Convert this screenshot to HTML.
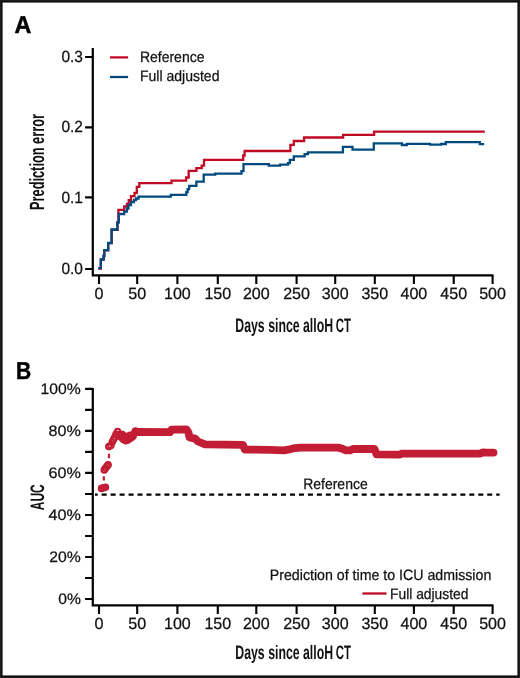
<!DOCTYPE html>
<html><head><meta charset="utf-8"><style>
html,body{margin:0;padding:0;background:#fff;}
body{width:520px;height:678px;overflow:hidden;}
svg{display:block;will-change:transform;}
text{font-family:"Liberation Sans",sans-serif;fill:#111;text-rendering:geometricPrecision;}
.t{font-size:16.2px;stroke:#111;stroke-width:0.25px;}
.lg{font-size:15.0px;stroke:#111;stroke-width:0.25px;}
.ti{font-size:19.5px;font-weight:bold;}
.pl{font-size:24.4px;font-weight:bold;fill:#000;stroke:#000;stroke-width:0.5px;}
</style></head><body>
<svg width="520" height="678" viewBox="0 0 520 678">
<rect x="0" y="0" width="520" height="678" fill="#fff"/>
<path d="M92.8 47.9V275.3H493.4" fill="none" stroke="#000" stroke-width="2.2"/>
<path d="M85.1 268.95H92.8 M85.1 197.40H92.8 M85.1 127.35H92.8 M85.1 56.95H92.8 M99.00 275.3V283.9 M137.20 275.3V283.9 M177.40 275.3V283.9 M217.80 275.3V283.9 M256.30 275.3V283.9 M296.60 275.3V283.9 M335.20 275.3V283.9 M374.80 275.3V283.9 M413.90 275.3V283.9 M453.70 275.3V283.9 M492.60 275.3V283.9" fill="none" stroke="#000" stroke-width="2.1"/>
<text x="82.9" y="274.05" text-anchor="end" class="t" textLength="21.5" lengthAdjust="spacingAndGlyphs">0.0</text>
<text x="82.9" y="202.50" text-anchor="end" class="t" textLength="21.5" lengthAdjust="spacingAndGlyphs">0.1</text>
<text x="82.9" y="132.45" text-anchor="end" class="t" textLength="21.5" lengthAdjust="spacingAndGlyphs">0.2</text>
<text x="82.9" y="62.05" text-anchor="end" class="t" textLength="21.5" lengthAdjust="spacingAndGlyphs">0.3</text>
<text x="99.00" y="298.5" text-anchor="middle" class="t" textLength="9.0" lengthAdjust="spacingAndGlyphs">0</text>
<text x="137.20" y="298.5" text-anchor="middle" class="t" textLength="17.9" lengthAdjust="spacingAndGlyphs">50</text>
<text x="177.40" y="298.5" text-anchor="middle" class="t" textLength="26.8" lengthAdjust="spacingAndGlyphs">100</text>
<text x="217.80" y="298.5" text-anchor="middle" class="t" textLength="26.8" lengthAdjust="spacingAndGlyphs">150</text>
<text x="256.30" y="298.5" text-anchor="middle" class="t" textLength="26.8" lengthAdjust="spacingAndGlyphs">200</text>
<text x="296.60" y="298.5" text-anchor="middle" class="t" textLength="26.8" lengthAdjust="spacingAndGlyphs">250</text>
<text x="335.20" y="298.5" text-anchor="middle" class="t" textLength="26.8" lengthAdjust="spacingAndGlyphs">300</text>
<text x="374.80" y="298.5" text-anchor="middle" class="t" textLength="26.8" lengthAdjust="spacingAndGlyphs">350</text>
<text x="413.90" y="298.5" text-anchor="middle" class="t" textLength="26.8" lengthAdjust="spacingAndGlyphs">400</text>
<text x="453.70" y="298.5" text-anchor="middle" class="t" textLength="26.8" lengthAdjust="spacingAndGlyphs">450</text>
<text x="492.60" y="298.5" text-anchor="middle" class="t" textLength="26.8" lengthAdjust="spacingAndGlyphs">500</text>
<text x="14.45" y="32.7" class="pl" textLength="16.8" lengthAdjust="spacingAndGlyphs">A</text>
<text transform="translate(44,210.0) rotate(-90)" class="ti" style="font-size:20.6px" textLength="96" lengthAdjust="spacingAndGlyphs">Prediction error</text>
<text x="235.3" y="331.6" class="ti" textLength="97.8" lengthAdjust="spacingAndGlyphs">Days since alloH</text><text x="335.8" y="331.6" class="ti" textLength="15.2" lengthAdjust="spacingAndGlyphs">CT</text>
<path d="M110 57.4H128.1" stroke="#c00a24" stroke-width="2.3"/>
<path d="M110 77H128.1" stroke="#004a7f" stroke-width="2.3"/>
<text x="139.9" y="62" class="lg" textLength="64.6" lengthAdjust="spacingAndGlyphs">Reference</text>
<text x="139.9" y="81.4" class="lg" textLength="79.6" lengthAdjust="spacingAndGlyphs">Full adjusted</text>
<path d="M98.3 268.6H100.8V259.6H103.6V256H104.3V250.3H108.2V243.2H111.6V229.8H117.5V222.3H118.4V209.8H124.2V206.3H126.9V204H128.7V200.1H131V196.1H134.5V192.8H136.8V186.8H139.3V183.1H171.5V180.6H186.1V177.5H188.7V170.8H196.4V168.1H201.7V165.6H204V159.8H243.2V155.5H244.6V151H290.4V144.8H293.8V141H304.1V137.5H343.1V134.8H374.1V131.6H484.8" fill="none" stroke="#c00a24" stroke-width="2.3"/>
<path d="M98.3 268.2H100.8V259.5H103.6V256H104.3V250.2H108.2V243H111.6V229.5H117.4V222.3H118.8V214H124.2V211.6H126.8V208.5H128.5V205H131V202H134V200H136V198.5H138.5V196.6H170.8V194.8H186.3V192.1H187.6V189.2H189.2V185.8H196.4V181.7H203.7V174.6H215.2V173.6H241.5V171.2H243.5V164.2H268.8V165.6H280V164.6H288V163.2H289.8V159.8H293.8V156.3H304.6V154.2H307.9V152.3H342.9V146.9H352.5V149.6H373.8V143.3H402V145H406.8V143.8H430V144.6H441V144H445.8V142.2H479.8V144.2H484.2" fill="none" stroke="#004a7f" stroke-width="2.3"/>
<path d="M92.8 387.9V605.3H493.4" fill="none" stroke="#000" stroke-width="2.2"/>
<path d="M85.1 598.95H92.8 M85.1 577.95H92.8 M85.1 556.94H92.8 M85.1 535.94H92.8 M85.1 514.93H92.8 M85.1 493.93H92.8 M85.1 472.92H92.8 M85.1 451.92H92.8 M85.1 430.91H92.8 M85.1 409.91H92.8 M85.1 388.90H92.8 M99.00 605.3V613.9 M137.20 605.3V613.9 M177.40 605.3V613.9 M217.80 605.3V613.9 M256.30 605.3V613.9 M296.60 605.3V613.9 M335.20 605.3V613.9 M374.80 605.3V613.9 M413.90 605.3V613.9 M453.70 605.3V613.9 M492.60 605.3V613.9" fill="none" stroke="#000" stroke-width="2.1"/>
<text x="80.8" y="603.65" text-anchor="end" class="t" style="font-size:15.2px" textLength="22.6" lengthAdjust="spacingAndGlyphs">0%</text>
<text x="80.8" y="561.64" text-anchor="end" class="t" style="font-size:15.2px" textLength="31.5" lengthAdjust="spacingAndGlyphs">20%</text>
<text x="80.8" y="519.63" text-anchor="end" class="t" style="font-size:15.2px" textLength="32.3" lengthAdjust="spacingAndGlyphs">40%</text>
<text x="80.8" y="477.62" text-anchor="end" class="t" style="font-size:15.2px" textLength="32.3" lengthAdjust="spacingAndGlyphs">60%</text>
<text x="80.8" y="435.61" text-anchor="end" class="t" style="font-size:15.2px" textLength="32.3" lengthAdjust="spacingAndGlyphs">80%</text>
<text x="80.8" y="393.60" text-anchor="end" class="t" style="font-size:15.2px" textLength="40.2" lengthAdjust="spacingAndGlyphs">100%</text>
<text x="99.00" y="628.5" text-anchor="middle" class="t" textLength="9.0" lengthAdjust="spacingAndGlyphs">0</text>
<text x="137.20" y="628.5" text-anchor="middle" class="t" textLength="17.9" lengthAdjust="spacingAndGlyphs">50</text>
<text x="177.40" y="628.5" text-anchor="middle" class="t" textLength="26.8" lengthAdjust="spacingAndGlyphs">100</text>
<text x="217.80" y="628.5" text-anchor="middle" class="t" textLength="26.8" lengthAdjust="spacingAndGlyphs">150</text>
<text x="256.30" y="628.5" text-anchor="middle" class="t" textLength="26.8" lengthAdjust="spacingAndGlyphs">200</text>
<text x="296.60" y="628.5" text-anchor="middle" class="t" textLength="26.8" lengthAdjust="spacingAndGlyphs">250</text>
<text x="335.20" y="628.5" text-anchor="middle" class="t" textLength="26.8" lengthAdjust="spacingAndGlyphs">300</text>
<text x="374.80" y="628.5" text-anchor="middle" class="t" textLength="26.8" lengthAdjust="spacingAndGlyphs">350</text>
<text x="413.90" y="628.5" text-anchor="middle" class="t" textLength="26.8" lengthAdjust="spacingAndGlyphs">400</text>
<text x="453.70" y="628.5" text-anchor="middle" class="t" textLength="26.8" lengthAdjust="spacingAndGlyphs">450</text>
<text x="492.60" y="628.5" text-anchor="middle" class="t" textLength="26.8" lengthAdjust="spacingAndGlyphs">500</text>
<text x="16.0" y="378.5" class="pl" textLength="15.2" lengthAdjust="spacingAndGlyphs">B</text>
<text transform="translate(44.1,510.2) rotate(-90)" class="ti" textLength="25.9" lengthAdjust="spacingAndGlyphs">AUC</text>
<text x="235.3" y="658.7" class="ti" textLength="97.8" lengthAdjust="spacingAndGlyphs">Days since alloH</text><text x="335.8" y="658.7" class="ti" textLength="15.2" lengthAdjust="spacingAndGlyphs">CT</text>
<path d="M95 494.6H499.6" stroke="#000" stroke-width="2.2" stroke-dasharray="5 3.967" stroke-dashoffset="2.3"/>
<text x="303.2" y="488.8" class="lg" textLength="64.5" lengthAdjust="spacingAndGlyphs">Reference</text>
<text x="269.8" y="579.6" class="lg" textLength="221.5" lengthAdjust="spacingAndGlyphs">Prediction of time to ICU admission</text>
<path d="M362.4 593.5H386.5" stroke="#c00a24" stroke-width="2.3"/>
<text x="390" y="598.8" class="lg" textLength="78.5" lengthAdjust="spacingAndGlyphs">Full adjusted</text>
<path d="M103.8 476.2V480.6M109 453.8V458.2" stroke="#c21d34" stroke-width="2.2"/>
<circle cx="101.6" cy="488.4" r="2.75" fill="none" stroke="#c21d34" stroke-width="2.1"/>
<circle cx="103.6" cy="487.8" r="2.75" fill="none" stroke="#c21d34" stroke-width="2.1"/>
<circle cx="105.4" cy="487.2" r="2.75" fill="none" stroke="#c21d34" stroke-width="2.1"/>
<circle cx="104.3" cy="469.9" r="2.75" fill="none" stroke="#c21d34" stroke-width="2.1"/>
<circle cx="105.6" cy="468.1" r="2.75" fill="none" stroke="#c21d34" stroke-width="2.1"/>
<circle cx="107" cy="466.3" r="2.75" fill="none" stroke="#c21d34" stroke-width="2.1"/>
<circle cx="108.1" cy="464.8" r="2.75" fill="none" stroke="#c21d34" stroke-width="2.1"/>
<circle cx="108.8" cy="446.6" r="2.75" fill="none" stroke="#c21d34" stroke-width="2.1"/>
<circle cx="110.9" cy="445.6" r="2.75" fill="none" stroke="#c21d34" stroke-width="2.1"/>
<circle cx="112.3" cy="442.1" r="2.75" fill="none" stroke="#c21d34" stroke-width="2.1"/>
<circle cx="113.6" cy="439.6" r="2.75" fill="none" stroke="#c21d34" stroke-width="2.1"/>
<circle cx="114.7" cy="437.3" r="2.75" fill="none" stroke="#c21d34" stroke-width="2.1"/>
<circle cx="116" cy="434.2" r="2.75" fill="none" stroke="#c21d34" stroke-width="2.1"/>
<circle cx="117.6" cy="431.6" r="2.75" fill="none" stroke="#c21d34" stroke-width="2.1"/>
<circle cx="119.5" cy="434.5" r="2.75" fill="none" stroke="#c21d34" stroke-width="2.1"/>
<circle cx="121.5" cy="437.5" r="2.75" fill="none" stroke="#c21d34" stroke-width="2.1"/>
<circle cx="123.5" cy="439.5" r="2.75" fill="none" stroke="#c21d34" stroke-width="2.1"/>
<circle cx="125.8" cy="440.7" r="2.75" fill="none" stroke="#c21d34" stroke-width="2.1"/>
<circle cx="127.8" cy="440" r="2.75" fill="none" stroke="#c21d34" stroke-width="2.1"/>
<circle cx="129.6" cy="438.7" r="2.75" fill="none" stroke="#c21d34" stroke-width="2.1"/>
<circle cx="131.5" cy="437.5" r="2.75" fill="none" stroke="#c21d34" stroke-width="2.1"/>
<circle cx="133" cy="436.2" r="2.75" fill="none" stroke="#c21d34" stroke-width="2.1"/>
<circle cx="134.3" cy="433.5" r="2.75" fill="none" stroke="#c21d34" stroke-width="2.1"/>
<circle cx="135.4" cy="431" r="2.75" fill="none" stroke="#c21d34" stroke-width="2.1"/>
<circle cx="122.3" cy="434.6" r="2.75" fill="none" stroke="#c21d34" stroke-width="2.1"/>
<circle cx="124.8" cy="436.4" r="2.75" fill="none" stroke="#c21d34" stroke-width="2.1"/>
<circle cx="127.4" cy="436.6" r="2.75" fill="none" stroke="#c21d34" stroke-width="2.1"/>
<circle cx="130" cy="435.2" r="2.75" fill="none" stroke="#c21d34" stroke-width="2.1"/>
<path d="M135.4 432 L170 432.2 L171.5 429.6 L186.5 429.4 L188.5 432.5 L189.5 437.5 L195 438.6 L198 441.5 L205 444.3 L243 444.9 L244.8 449.6 L270 449.8 L284 450.4 L288 449.7 L293 448.4 L300 447.6 L338 447.6 L342 448.6 L346 450.4 L350 450.3 L353 449 L374.5 449 L376.5 454.4 L400 454.6 L402 453.6 L480 453.6 L483 452.4 L486 452.6 L493.5 452.6" fill="none" stroke="#c21d34" stroke-width="7.8" stroke-linejoin="round" stroke-linecap="round"/>
<path d="M0 0H520V678H0Z M2.5 2.5V675.5H517.5V2.5Z" fill="#201e1f" fill-rule="evenodd"/>
<rect x="1.6" y="1.6" width="516.8" height="674.8" fill="none" stroke="#0e0c0d" stroke-width="1.2"/>
</svg>
</body></html>
